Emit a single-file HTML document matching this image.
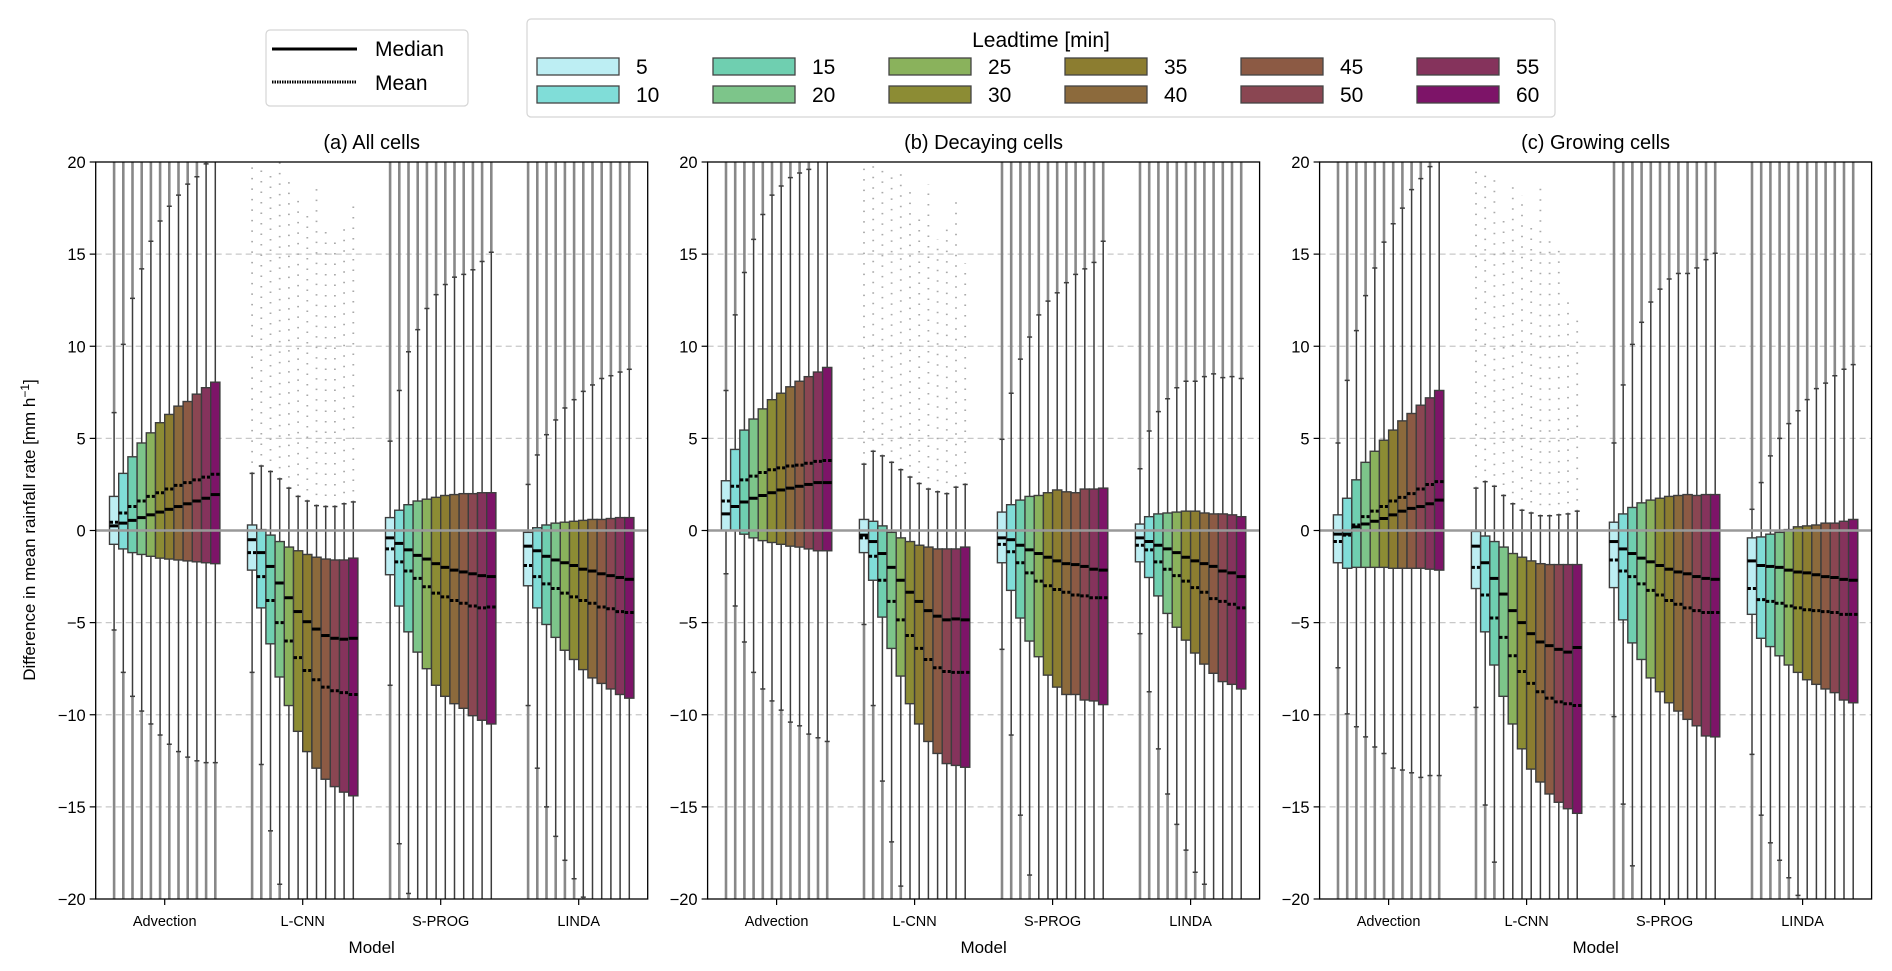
<!DOCTYPE html>
<html><head><meta charset="utf-8">
<style>
body{margin:0;background:#fff;}
svg{display:block;font-family:"Liberation Sans","DejaVu Sans",sans-serif;}
</style></head>
<body>
<svg id="fig" width="1892" height="971" viewBox="0 0 1892 971" xmlns="http://www.w3.org/2000/svg">
  <rect x="0" y="0" width="1892" height="971" fill="#fff"/>
  <g id="legend-stats">
    <rect x="266" y="30" width="202" height="76" rx="4" fill="#fff" stroke="#d5d5d5" stroke-width="1.2"/>
    <line x1="272" y1="49" x2="357" y2="49" stroke="#000" stroke-width="3"/>
    <text x="375" y="56" font-size="21">Median</text>
    <line x1="272" y1="82" x2="357" y2="82" stroke="#000" stroke-width="3" stroke-dasharray="1.5,1"/>
    <text x="375" y="90" font-size="21">Mean</text>
  </g>
  <g id="legend-lead">
    <rect x="527" y="19" width="1028" height="98" rx="4" fill="#fff" stroke="#d5d5d5" stroke-width="1.2"/>
    <text x="1041" y="47" font-size="21" text-anchor="middle">Leadtime [min]</text>
  </g>
  <g id="panels"></g>
  <text transform="translate(35,530) rotate(-90)" font-size="17" text-anchor="middle">Difference in mean rainfall rate [mm h<tspan dy="-6" font-size="12">−1</tspan><tspan dy="6">]</tspan></text>
</svg>
<script>
const leadtimes = [5,10,15,20,25,30,35,40,45,50,55,60];
const colors = ["#bdeef3","#80ddd8","#6fcfb0","#7dc58a","#8ab25c","#8c8c34","#8c7d30","#8c6a3c","#8c5a44","#8a4652","#85335c","#7d1468"];
const models = ["Advection","L-CNN","S-PROG","LINDA"];
const panelTitles = ["(a) All cells","(b) Decaying cells","(c) Growing cells"];
const yTicks = [20,15,10,5,0,-5,-10,-15,-20];
const N = null;

// Panel (a) All cells: [Advection, L-CNN, S-PROG, LINDA]
const aQ3 = [[1.85,3.1,4.0,4.75,5.3,5.85,6.3,6.75,7.0,7.4,7.75,8.05],[0.3,0.05,-0.25,-0.6,-0.9,-1.1,-1.3,-1.45,-1.55,-1.6,-1.6,-1.5],[0.7,1.1,1.4,1.6,1.7,1.8,1.9,1.95,2.0,2.0,2.05,2.05],[-0.1,0.15,0.3,0.4,0.45,0.5,0.55,0.6,0.6,0.65,0.7,0.7]];
const aQ1 = [[-0.75,-1.0,-1.2,-1.3,-1.4,-1.5,-1.55,-1.6,-1.65,-1.7,-1.75,-1.8],[-2.15,-4.2,-6.15,-7.95,-9.5,-10.9,-12.0,-12.9,-13.5,-13.9,-14.2,-14.4],[-2.4,-4.1,-5.5,-6.6,-7.5,-8.4,-9.0,-9.4,-9.65,-10.05,-10.3,-10.5],[-3.0,-4.2,-5.1,-5.8,-6.5,-7.0,-7.55,-8.0,-8.3,-8.6,-8.9,-9.1]];
const aMed = [[0.25,0.4,0.55,0.7,0.85,1.0,1.15,1.3,1.45,1.6,1.75,1.95],[-0.5,-1.2,-1.95,-2.85,-3.65,-4.4,-4.95,-5.35,-5.7,-5.85,-5.9,-5.85],[-0.4,-0.7,-1.05,-1.35,-1.55,-1.8,-2.0,-2.15,-2.25,-2.35,-2.45,-2.5],[-0.85,-1.1,-1.4,-1.6,-1.75,-1.9,-2.1,-2.2,-2.35,-2.45,-2.55,-2.65]];
const aMean = [[0.45,0.95,1.3,1.6,1.85,2.05,2.25,2.45,2.6,2.75,2.9,3.05],[-1.2,-2.5,-3.8,-5.0,-6.0,-6.9,-7.6,-8.1,-8.5,-8.7,-8.8,-8.9],[-1.0,-1.7,-2.2,-2.6,-3.05,-3.4,-3.6,-3.8,-3.95,-4.1,-4.2,-4.15],[-1.9,-2.5,-2.9,-3.15,-3.4,-3.6,-3.8,-3.95,-4.15,-4.25,-4.4,-4.45]];
const aHi = [[6.4,10.1,12.6,14.2,15.7,16.8,17.6,18.2,18.8,19.2,19.9,N],[3.1,3.5,3.2,2.8,2.3,1.85,1.6,1.35,1.3,1.3,1.45,1.55],[4.85,7.6,9.7,10.9,12.05,12.8,13.35,13.75,13.9,14.15,14.6,15.1],[2.5,4.1,5.2,6.0,6.65,7.1,7.55,7.9,8.25,8.4,8.6,8.75]];
const aLo = [[-5.4,-7.7,-9.0,-9.8,-10.5,-11.1,-11.6,-12.0,-12.3,-12.5,-12.6,-12.6],[-7.7,-12.7,-16.3,-19.2,N,N,N,N,N,N,N,N],[-8.4,-17.0,-19.7,N,N,N,N,N,N,N,N,N],[-9.5,-12.9,-15.0,-16.6,-17.9,-18.9,-19.9,N,N,N,N,N]];
const aLcnnFlierTop = [20,19.6,19.5,20,19.3,18.1,17.1,18.6,16.4,15.8,16.6,17.8];

// Panel (b) Decaying cells
const bQ3 = [[2.7,4.4,5.45,6.05,6.6,7.1,7.45,7.8,8.1,8.35,8.6,8.85],[0.6,0.5,0.25,-0.1,-0.4,-0.6,-0.8,-0.9,-1.0,-1.0,-1.0,-0.9],[1.0,1.4,1.65,1.85,1.9,2.05,2.2,2.1,2.05,2.25,2.25,2.3],[0.35,0.75,0.9,0.95,1.0,1.05,1.05,0.95,0.9,0.9,0.85,0.75]];
const bQ1 = [[0,0,-0.2,-0.4,-0.55,-0.65,-0.75,-0.85,-0.9,-1.0,-1.1,-1.1],[-1.2,-2.7,-4.7,-6.4,-7.9,-9.4,-10.5,-11.45,-12.1,-12.65,-12.75,-12.85],[-1.75,-3.25,-4.75,-6.0,-6.85,-7.85,-8.5,-8.9,-8.9,-9.2,-9.25,-9.45],[-1.7,-2.55,-3.55,-4.5,-5.25,-5.95,-6.65,-7.25,-7.75,-8.2,-8.35,-8.6]];
const bMed = [[0.9,1.3,1.55,1.75,1.9,2.05,2.2,2.3,2.4,2.5,2.6,2.6],[-0.25,-0.6,-1.25,-2.0,-2.7,-3.35,-3.85,-4.35,-4.65,-4.85,-4.8,-4.85],[-0.4,-0.5,-0.8,-1.05,-1.25,-1.45,-1.65,-1.8,-1.85,-1.95,-2.1,-2.15],[-0.4,-0.6,-0.8,-1.0,-1.2,-1.45,-1.65,-1.8,-1.95,-2.2,-2.3,-2.5]];
const bMean = [[1.6,2.4,2.75,2.95,3.15,3.3,3.4,3.5,3.55,3.65,3.75,3.8],[-0.4,-1.4,-2.7,-3.85,-4.85,-5.7,-6.4,-7.0,-7.45,-7.65,-7.7,-7.7],[-0.75,-1.15,-1.75,-2.3,-2.75,-3.0,-3.2,-3.35,-3.5,-3.55,-3.65,-3.65],[-0.8,-1.05,-1.7,-2.1,-2.45,-2.75,-3.1,-3.35,-3.7,-3.85,-4.0,-4.2]];
const bHi = [[7.6,11.7,14.0,15.8,17.15,18.2,18.7,19.15,19.4,19.6,N,N],[3.6,4.3,4.05,3.7,3.3,2.9,2.55,2.25,2.1,2.0,2.35,2.5],[4.95,7.45,9.3,10.5,11.7,12.45,12.9,13.45,13.9,14.2,14.55,15.7],[3.35,5.4,6.45,7.15,7.75,8.1,8.1,8.35,8.5,8.3,8.35,8.25]];
const bLo = [[-2.35,-4.1,-6.05,-7.7,-8.6,-9.25,-9.75,-10.4,-10.6,-11.05,-11.25,-11.45],[-5.1,-9.5,-13.6,-16.9,-19.3,N,N,N,N,N,N,N],[-6.45,-11.1,-15.45,-18.7,N,N,N,N,N,N,N,N],[-5.6,-8.75,-11.85,-14.3,-15.95,-17.35,-18.55,-19.2,N,N,N,N]];
const bLcnnFlierTop = [20,20,19.8,19.5,19.8,18.5,17.3,18.8,15.8,16.6,18.0,14.5];

// Panel (c) Growing cells
const cQ3 = [[0.85,1.75,2.75,3.7,4.3,4.9,5.45,5.95,6.35,6.8,7.2,7.6],[-0.05,-0.3,-0.6,-0.9,-1.25,-1.45,-1.65,-1.8,-1.85,-1.85,-1.85,-1.85],[0.45,0.9,1.25,1.5,1.65,1.75,1.85,1.9,1.95,1.9,1.95,1.95],[-0.4,-0.35,-0.2,-0.1,0.05,0.2,0.25,0.3,0.4,0.4,0.5,0.6]];
const cQ1 = [[-1.75,-2.05,-2.0,-2.0,-2.0,-2.0,-2.05,-2.05,-2.05,-2.05,-2.1,-2.15],[-3.15,-5.5,-7.3,-9.0,-10.5,-11.85,-12.95,-13.65,-14.3,-14.75,-15.1,-15.35],[-3.1,-4.85,-6.1,-7.0,-8.0,-8.75,-9.35,-9.8,-10.25,-10.6,-11.15,-11.2],[-4.55,-5.85,-6.3,-6.8,-7.3,-7.7,-8.1,-8.35,-8.6,-8.8,-9.2,-9.35]];
const cMed = [[-0.2,-0.2,0.2,0.35,0.5,0.65,0.85,1.05,1.2,1.3,1.45,1.65],[-0.85,-1.75,-2.6,-3.45,-4.35,-5.0,-5.6,-6.05,-6.25,-6.45,-6.6,-6.35],[-0.6,-1.0,-1.25,-1.5,-1.7,-1.9,-2.1,-2.25,-2.35,-2.5,-2.6,-2.65],[-1.65,-1.9,-1.95,-2.0,-2.15,-2.25,-2.3,-2.4,-2.5,-2.55,-2.65,-2.7]];
const cMean = [[-0.6,-0.25,0.3,0.75,1.05,1.3,1.6,1.8,2.0,2.25,2.5,2.65],[-2.0,-3.5,-4.75,-5.8,-6.8,-7.65,-8.3,-8.75,-9.1,-9.3,-9.4,-9.5],[-1.6,-2.2,-2.5,-2.9,-3.25,-3.5,-3.8,-4.0,-4.2,-4.35,-4.45,-4.45],[-3.15,-3.75,-3.85,-3.95,-4.1,-4.2,-4.3,-4.35,-4.4,-4.45,-4.55,-4.55]];
const cHi = [[4.75,8.15,10.85,12.75,14.25,15.65,16.65,17.5,18.5,19.1,19.75,N],[2.3,2.65,2.4,1.9,1.45,1.1,0.95,0.8,0.8,0.85,0.9,1.05],[4.75,7.9,10.1,11.3,12.4,13.1,13.65,13.95,13.95,14.25,14.7,15.05],[1.15,2.6,4.05,5.0,5.8,6.5,7.1,7.7,8.0,8.4,8.75,9.0]];
const cLo = [[-7.45,-9.95,-10.65,-11.2,-11.75,-12.1,-12.9,-13.0,-13.15,-13.4,-13.3,-13.3],[-9.6,-14.9,-18.0,N,N,N,N,N,N,N,N,N],[-10.1,-14.85,-18.2,N,N,N,N,N,N,N,N,N],[-12.15,-15.45,-16.95,-17.9,-18.85,-19.8,N,N,N,N,N,N]];
const cLcnnFlierTop = [19.9,19.6,19.5,17.0,18.8,18.2,16.6,18.7,15.8,15.3,12.8,11.7];

const panelQ3 = [aQ3,bQ3,cQ3], panelQ1=[aQ1,bQ1,cQ1], panelMed=[aMed,bMed,cMed], panelMean=[aMean,bMean,cMean], panelHi=[aHi,bHi,cHi], panelLo=[aLo,bLo,cLo], panelFlier=[aLcnnFlierTop,bLcnnFlierTop,cLcnnFlierTop];

const NS = "http://www.w3.org/2000/svg";
const panelLeft = [95.7, 707.6, 1319.6];
const axW = 552, axTop = 162, axBot = 899, yMin=-20, yMax=20;
function yS(v){ return axBot - (v - yMin) / (yMax - yMin) * (axBot - axTop); }
function el(tag, attrs, parent){ const e=document.createElementNS(NS,tag); for(const k in attrs) e.setAttribute(k,attrs[k]); parent.appendChild(e); return e; }

const lg = document.getElementById('legend-lead');
leadtimes.forEach((lt,i)=>{
  const col = Math.floor(i/2), row = i%2;
  const px = 537 + col*176, py = 58 + row*28;
  const r = el('rect',{x:px,y:py,width:82,height:17,fill:colors[i],stroke:'#444','stroke-width':1.3},lg);
  
  
  const t = el('text',{x:px+99,y:py+16,'font-size':21},lg);
  t.textContent = lt;
  
  
});

const root = document.getElementById('panels');
panelTitles.forEach((title,p)=>{
  const x0 = panelLeft[p];
  const g = el('g',{},root);
  
  
  const tt = el('text',{x:x0+axW/2,y:149,'font-size':20,'text-anchor':'middle'},g);
  tt.textContent = title;
  
  
  const cp = el('clipPath',{id:'clip'+p},g);
  el('rect',{x:x0,y:axTop,width:axW,height:axBot-axTop},cp);
  yTicks.forEach(v=>{
    if(v!==0 && v!==20 && v!==-20){
      const gl = el('line',{x1:x0,x2:x0+axW,y1:yS(v),y2:yS(v),stroke:'#c8c8c8','stroke-width':1.2,'stroke-dasharray':'6,4'},g);
      
      
    }
    const tk = el('line',{x1:x0-6,x2:x0,y1:yS(v),y2:yS(v),stroke:'#000','stroke-width':1.2},g);
    
    
    const tl = el('text',{x:x0-10,y:yS(v)+6,'font-size':16.5,'text-anchor':'end'},g);
    tl.textContent = v<0 ? '\u2212'+Math.abs(v) : String(v);
    
    
  });
  const plot = el('g',{'clip-path':'url(#clip'+p+')'},g);
  const cw = axW/4, bw = cw*0.8/12;
  models.forEach((m,mi)=>{
    const cx = x0 + (mi+0.5)*cw;
    const mg = el('g',{},plot);
    
    
    for(let j=0;j<12;j++){
      const bx = cx - cw*0.4 + j*bw, bc = bx + bw/2;
      const q1 = panelQ1[p][mi][j], q3 = panelQ3[p][mi][j];
      const hi = panelHi[p][mi][j], lo = panelLo[p][mi][j];
      if(hi!==null){
        let top = 20, sparse = false;
        if(mi===1){ top = panelFlier[p][j]; sparse = true; }
        const fl = el('line',{x1:bc,x2:bc,y1:yS(hi),y2:yS(top),stroke: sparse?'#aaa':'#888','stroke-width': sparse?1.8:2.6,'stroke-dasharray': sparse?'1.5,9':'none'},mg);
        
        
      }
      if(lo!==null){
        const fl = el('line',{x1:bc,x2:bc,y1:yS(lo),y2:yS(-20),stroke:'#888','stroke-width':2.6},mg);
        
        
      }
      const wh = el('line',{x1:bc,x2:bc,y1:yS(q3),y2:yS(hi===null?20.5:hi),stroke:'#3d3d3d','stroke-width':1.5},mg);
      
      
      const wl = el('line',{x1:bc,x2:bc,y1:yS(q1),y2:yS(lo===null?-20.5:lo),stroke:'#3d3d3d','stroke-width':1.5},mg);
      
      
      [hi,lo].forEach(cv=>{ if(cv!==null){
        const cap = el('line',{x1:bc-2.5,x2:bc+2.5,y1:yS(cv),y2:yS(cv),stroke:'#3d3d3d','stroke-width':1.5},mg);
        
        
      }});
      const box = el('rect',{x:bx,y:yS(q3),width:bw,height:yS(q1)-yS(q3),fill:colors[j],stroke:'#3d3d3d','stroke-width':1.4},mg);
      
      
      const md = el('line',{x1:bx,x2:bx+bw,y1:yS(panelMed[p][mi][j]),y2:yS(panelMed[p][mi][j]),stroke:'#000','stroke-width':3},mg);
      
      
      const mn = el('line',{x1:bx,x2:bx+bw,y1:yS(panelMean[p][mi][j]),y2:yS(panelMean[p][mi][j]),stroke:'#000','stroke-width':3,'stroke-dasharray':'3.5,2'},mg);
      
      
    }
    const xt = el('line',{x1:cx,x2:cx,y1:axBot,y2:axBot+6,stroke:'#000','stroke-width':1.2},g);
    
    
    const xl = el('text',{x:cx,y:axBot+27,'font-size':14.5,'text-anchor':'middle'},g);
    xl.textContent = m;
    
    
  });
  const zl = el('line',{x1:x0,x2:x0+axW,y1:yS(0),y2:yS(0),stroke:'#999','stroke-width':2.6},g);
  
  
  const fr = el('rect',{x:x0,y:axTop,width:axW,height:axBot-axTop,fill:'none',stroke:'#000','stroke-width':1.3},g);
  
  
  const xt = el('text',{x:x0+axW/2,y:axBot+54,'font-size':17,'text-anchor':'middle'},g);
  xt.textContent = 'Model';
  
  
});
</script>
</body></html>
